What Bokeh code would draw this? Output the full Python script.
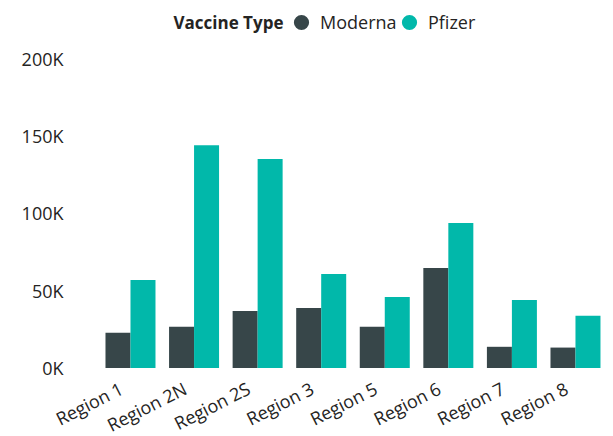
from bokeh.plotting import figure
from bokeh.models import (Range1d, FixedTicker, Legend, LegendItem,
                          Label, ColumnDataSource)
from bokeh.embed import file_html
from bokeh.resources import INLINE
from bokeh.core.properties import value

regions = ["Region 1", "Region 2N", "Region 2S", "Region 3",
           "Region 5", "Region 6", "Region 7", "Region 8"]
moderna = [22700, 26600, 36900, 38800, 26600, 64600, 13700, 13200]
pfizer = [56900, 144000, 135000, 60800, 45900, 93700, 44000, 33700]
y_ticks = [0, 50000, 100000, 150000, 200000]
y_tick_labels = ["0K", "50K", "100K", "150K", "200K"]
series = ["Moderna", "Pfizer"]
colors = ["#374649", "#01B8AA"]
legend_title = "Vaccine Type"

FONT = "Open Sans"
TEXT = "#252423"

# ---- layout in pixels -------------------------------------------------
W, H = 613, 436
LEFT = 50                 # frame starts here (y labels drawn just inside)
BAND0 = 98.2              # pixel where the first category band starts
STEP = 63.57              # pixels per category
ZERO_PX = 367.5           # pixel row of value 0
TOP_PX = 58.0             # pixel row of 200K
y_max = y_ticks[-1]
ppu = (ZERO_PX - TOP_PX) / y_max
y_top = y_max + TOP_PX / ppu
y_bot = -(H - ZERO_PX) / ppu
x_start = -0.5 - (BAND0 - LEFT) / STEP
x_end = -0.5 + (W - BAND0) / STEP

idx = list(range(len(regions)))
bw = 25 / STEP
src = ColumnDataSource(dict(
    idx=idx, region=regions, Moderna=moderna, Pfizer=pfizer,
    xm=[i - bw / 2 for i in idx], xp=[i + bw / 2 for i in idx],
    zero=[0] * len(regions)))

p = figure(x_range=Range1d(x_start, x_end), y_range=Range1d(y_bot, y_top),
           x_axis_location=None, width=W, height=H,
           output_backend="svg", toolbar_location=None,
           min_border_left=LEFT, min_border_right=0, min_border_top=0,
           min_border_bottom=0)

p.vbar(x="xm", top="Moderna", bottom=0, width=bw, source=src,
       fill_color=colors[0], line_color=None)
p.vbar(x="xp", top="Pfizer", bottom=0, width=bw, source=src,
       fill_color=colors[1], line_color=None)

# category labels under the zero line
p.text(x="idx", y="zero", text="region", source=src, angle=0.47,
       x_offset=-9, y_offset=19, text_align="right", text_baseline="middle",
       text_font=value(FONT), text_font_size="18px", text_color=TEXT)

# legend markers (circles); size 0 so nothing shows in the plot itself
r_m = p.scatter(x="xm", y="Moderna", source=src, size=0, marker="circle",
                fill_color=colors[0], line_color=None)
r_p = p.scatter(x="xp", y="Pfizer", source=src, size=0, marker="circle",
                fill_color=colors[1], line_color=None)

GLYPH = 38
leg_common = dict(orientation="horizontal", glyph_width=GLYPH,
                  glyph_height=GLYPH, label_standoff=0, spacing=0,
                  padding=0, margin=0, border_line_color=None,
                  background_fill_alpha=0, label_text_font=FONT,
                  label_text_font_size="18px", label_text_color=TEXT,
                  label_text_baseline="middle")
leg_y = H - (22 + GLYPH / 2)
for name, rend, cx in zip(series, [r_m, r_p], [301, 409]):
    p.add_layout(Legend(items=[LegendItem(label=name, renderers=[rend])],
                        location=(cx - GLYPH / 2 - LEFT, leg_y), **leg_common),
                 "center")

p.add_layout(Label(x=123, y=414, x_units="screen", y_units="screen",
                   text=legend_title, text_font=FONT, text_font_size="17px",
                   text_font_style="bold", text_color=TEXT,
                   text_baseline="middle", text_align="left"))

p.xgrid.grid_line_color = None
p.ygrid.grid_line_color = None
p.outline_line_color = None

p.yaxis.ticker = FixedTicker(ticks=y_ticks)
p.yaxis.major_label_overrides = {t: l for t, l in zip(y_ticks, y_tick_labels)}
p.yaxis.axis_line_color = None
p.yaxis.major_tick_line_color = None
p.yaxis.minor_tick_line_color = None
p.yaxis.major_tick_out = 0
p.yaxis.major_tick_in = 0
p.yaxis.major_label_standoff = -13
p.yaxis.major_label_text_font = FONT
p.yaxis.major_label_text_font_size = "18px"
p.yaxis.major_label_text_color = TEXT

open("out.html", "w").write(file_html(p, INLINE))
